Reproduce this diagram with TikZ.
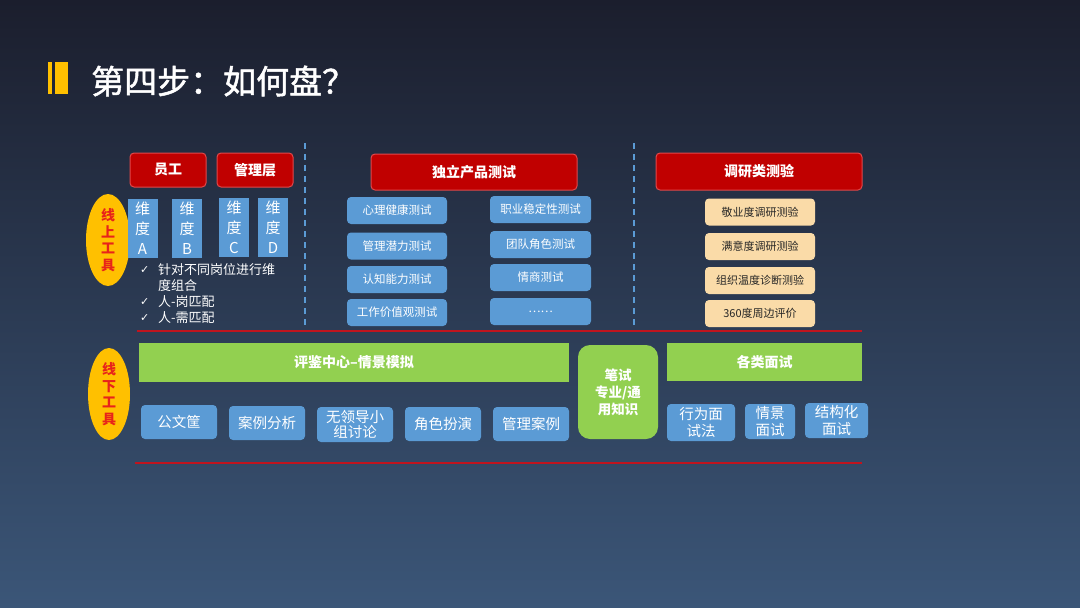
\documentclass[tikz,border=0pt]{standalone}
\usepackage{fontspec}
\setmainfont{Noto Sans CJK SC}
\newfontfamily\titlefont[FakeBold=1.5]{Noto Sans CJK SC}
\newfontfamily\symfont{DejaVu Sans}
\usetikzlibrary{shapes.geometric}
\definecolor{bgtop}{HTML}{1B1E2D}
\definecolor{bgbot}{HTML}{3B5678}
\definecolor{redf}{HTML}{C00000}
\definecolor{redb}{HTML}{E0484A}
\definecolor{bluef}{HTML}{5B9BD5}
\definecolor{greenf}{HTML}{92D050}
\definecolor{yel}{HTML}{FFC000}
\definecolor{ytxt}{HTML}{E8231A}
\definecolor{tanf}{HTML}{FADBA8}
\definecolor{lineR}{HTML}{C0141E}
\tikzset{
  redbox/.style={draw=redb, line width=1pt, fill=redf, rounded corners=4pt, inner sep=0pt, text=white, font=\fontsize{14}{16}\selectfont\bfseries},
  bluebox/.style={fill=bluef, rounded corners=4pt, inner sep=0pt, text=white, font=\fontsize{11.5}{13}\selectfont, align=center},
  dimbox/.style={fill=bluef, inner sep=0pt, text=white, font=\fontsize{15}{20}\selectfont, align=center, minimum width=30pt, minimum height=59pt},
  tanbox/.style={fill=tanf, rounded corners=4pt, inner sep=0pt, text=black!85, font=\fontsize{11}{13}\selectfont, minimum width=110pt, minimum height=27pt},
  greenbox/.style={fill=greenf, inner sep=0pt, text=white, font=\fontsize{14}{16}\selectfont\bfseries, align=center},
  tagell/.style={ellipse, fill=yel, inner sep=0pt, minimum width=44pt, minimum height=92pt, text=ytxt, font=\fontsize{14}{16.5}\selectfont\bfseries, align=center},
  checktxt/.style={anchor=west, inner sep=0pt, text=white, font=\fontsize{13}{14}\selectfont},
  sepline/.style={draw=bluef, line width=1.5pt, dash pattern=on 6pt off 5pt},
  redline/.style={draw=lineR, line width=2.5pt}
}
\begin{document}
\begin{tikzpicture}[x=1pt,y=-1pt]
\useasboundingbox (0,0) rectangle (1080,608);
\shade[top color=bgtop, bottom color=bgbot] (0,0) rectangle (1080,608);
% title
\fill[yel] (48,62) rectangle (51.5,94);
\fill[yel] (55,62) rectangle (68,94);
\node[anchor=west, inner sep=0pt, text=white, font=\titlefont\fontsize{33}{36}\selectfont] (title) at (91,81) {第四步：如何盘？};
% separators
\coordinate (s1t) at (305,143); \coordinate (s1b) at (305,330);
\coordinate (s2t) at (634,143); \coordinate (s2b) at (634,330);
\draw[sepline] (s1t) -- (s1b);
\draw[sepline] (s2t) -- (s2b);
% red lines
\coordinate (r1a) at (137,331); \coordinate (r1b) at (862,331);
\coordinate (r2a) at (135,463); \coordinate (r2b) at (862,463);
\draw[redline] (r1a) -- (r1b);
\draw[redline] (r2a) -- (r2b);
% left section
\node[redbox, minimum width=76pt, minimum height=34pt] (yg) at (168,170) {员工};
\node[redbox, minimum width=76pt, minimum height=34pt] (glc) at (255,170) {管理层};
\node[tagell] (online) at (108,240) {线\\上\\工\\具};
\node[dimbox] (wa) at (142.5,228.5) {维\\度\\A};
\node[dimbox] (wb) at (187,228.5) {维\\度\\B};
\node[dimbox] (wc) at (234,227) {维\\度\\C};
\node[dimbox] (wd) at (273,227) {维\\度\\D};
\node[checktxt] (c1m) at (140,270) {\symfont\fontsize{11}{13}\selectfont ✓};
\node[checktxt] (c1) at (158,270) {针对不同岗位进行维};
\node[checktxt] (c1b) at (158,286) {度组合};
\node[checktxt] (c2m) at (140,302) {\symfont\fontsize{11}{13}\selectfont ✓};
\node[checktxt] (c2) at (158,302) {人-岗匹配};
\node[checktxt] (c3m) at (140,318) {\symfont\fontsize{11}{13}\selectfont ✓};
\node[checktxt] (c3) at (158,318) {人-需匹配};
% middle section
\node[redbox, minimum width=206pt, minimum height=36pt] (dl) at (474,172) {独立产品测试};
\node[bluebox, minimum width=100pt, minimum height=27pt] (m1) at (397,210.5) {心理健康测试};
\node[bluebox, minimum width=100pt, minimum height=27pt] (m2) at (397,246) {管理潜力测试};
\node[bluebox, minimum width=100pt, minimum height=27pt] (m3) at (397,279.5) {认知能力测试};
\node[bluebox, minimum width=100pt, minimum height=27pt] (m4) at (397,312.5) {工作价值观测试};
\node[bluebox, minimum width=101pt, minimum height=27pt] (n1) at (540.5,209.5) {职业稳定性测试};
\node[bluebox, minimum width=101pt, minimum height=27pt] (n2) at (540.5,244.5) {团队角色测试};
\node[bluebox, minimum width=101pt, minimum height=27pt] (n3) at (540.5,277.5) {情商测试};
\node[bluebox, minimum width=101pt, minimum height=27pt] (n4) at (540.5,311.5) {……};
% right section
\node[redbox, minimum width=206pt, minimum height=37pt] (dy) at (759,171.5) {调研类测验};
\node[tanbox] (t1) at (760,212) {敬业度调研测验};
\node[tanbox] (t2) at (760,246.5) {满意度调研测验};
\node[tanbox] (t3) at (760,280.5) {组织温度诊断测验};
\node[tanbox] (t4) at (760,313.5) {360度周边评价};
% offline section
\node[tagell, minimum height=92pt, minimum width=42pt] (offline) at (109,394) {线\\下\\工\\具};
\node[greenbox, minimum width=430pt, minimum height=39pt] (pj) at (354,362.5) {评鉴中心–情景模拟};
\node[greenbox, rounded corners=12pt, minimum width=80pt, minimum height=94pt, font=\fontsize{13.5}{17}\selectfont\bfseries] (bs) at (618,392) {笔试\\专业/通\\用知识};
\node[greenbox, minimum width=195pt, minimum height=38pt] (ms) at (764.5,362) {各类面试};
\node[bluebox, minimum width=76pt, minimum height=34pt, font=\fontsize{14.5}{16}\selectfont] (o1) at (179,422) {公文筐};
\node[bluebox, minimum width=76pt, minimum height=34pt, font=\fontsize{14.5}{16}\selectfont] (o2) at (267,423) {案例分析};
\node[bluebox, minimum width=76pt, minimum height=35pt, font=\fontsize{14.5}{15.5}\selectfont] (o3) at (355,424.5) {无领导小\\组讨论};
\node[bluebox, minimum width=76pt, minimum height=34pt, font=\fontsize{14.5}{16}\selectfont] (o4) at (443,424) {角色扮演};
\node[bluebox, minimum width=76pt, minimum height=34pt, font=\fontsize{14.5}{16}\selectfont] (o5) at (531,424) {管理案例};
\node[bluebox, minimum width=68pt, minimum height=37pt, font=\fontsize{14.5}{16.5}\selectfont] (p1) at (701,422.5) {行为面\\试法};
\node[bluebox, minimum width=50pt, minimum height=35pt, font=\fontsize{14.5}{16.5}\selectfont] (p2) at (770,421.5) {情景\\面试};
\node[bluebox, minimum width=63pt, minimum height=35pt, font=\fontsize{14.5}{16.5}\selectfont] (p3) at (836.5,420.5) {结构化\\面试};
\end{tikzpicture}
\end{document}
